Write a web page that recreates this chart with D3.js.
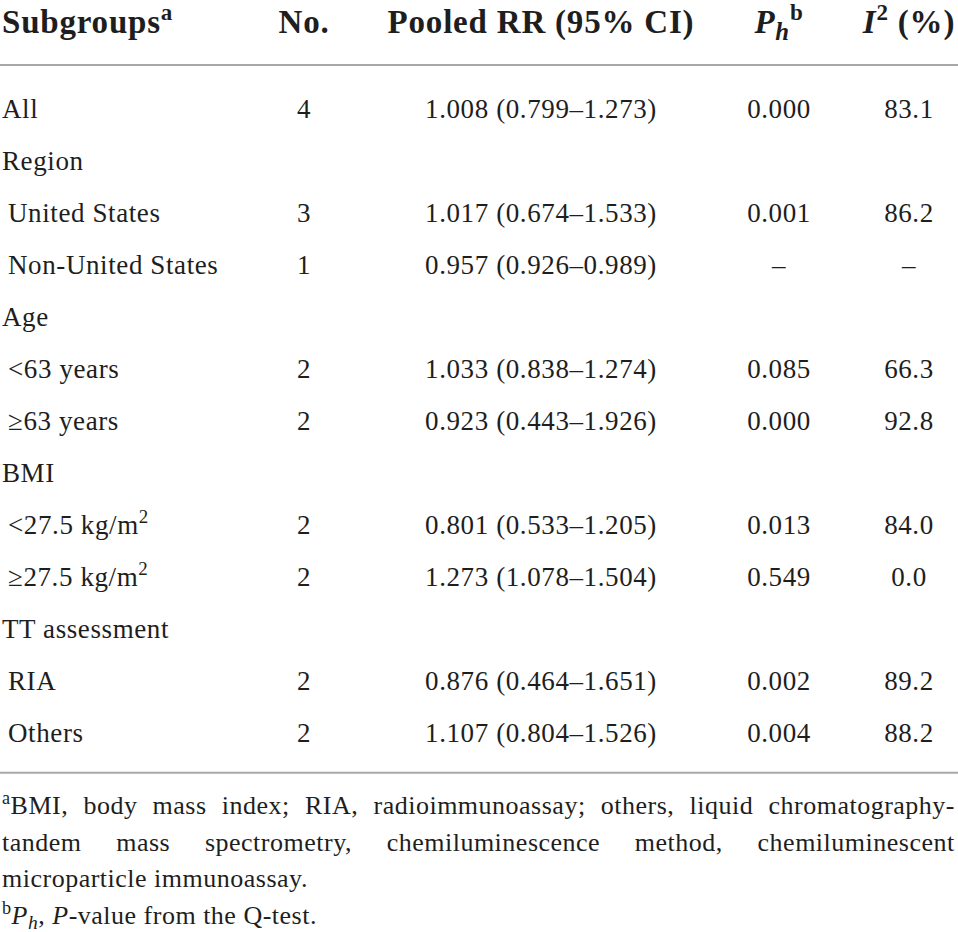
<!DOCTYPE html>
<html lang="en">
<head>
<meta charset="utf-8">
<title>Subgroup analysis table</title>
<script src="https://d3js.org/d3.v7.min.js"></script>
<style>
  html, body { margin: 0; padding: 0; background: #fff; }
  svg text { font-family: "Liberation Serif", "DejaVu Serif", serif; fill: #1e1e1e; }
  .head { font-size: 33px; font-weight: bold; letter-spacing: 0.8px; }
  .cell { font-size: 27px; letter-spacing: 0.6px; }
  .note { font-size: 26px; letter-spacing: 0.5px; }
</style>
</head>
<body>
<div id="table"></div>
<script>
// ---- data ----
// markup: ^x^ superscript, ~x~ italic subscript, *x* italic
var headers = ["Subgroups^a^", "No.", "Pooled RR (95% CI)", "*P*~h~^b^", "*I*^2^ (%)"];
var subgroups = ["All", "Region", "United States", "Non-United States", "Age", "<63 years", "\u226563 years",
                 "BMI", "<27.5 kg/m^2^", "\u226527.5 kg/m^2^", "TT assessment", "RIA", "Others"];
var indent = [0, 0, 1, 1, 0, 1, 1, 0, 1, 1, 0, 1, 1];
var counts = ["4", "", "3", "1", "", "2", "2", "", "2", "2", "", "2", "2"];
var pooledRR = ["1.008 (0.799\u20131.273)", "", "1.017 (0.674\u20131.533)", "0.957 (0.926\u20130.989)", "",
                "1.033 (0.838\u20131.274)", "0.923 (0.443\u20131.926)", "", "0.801 (0.533\u20131.205)",
                "1.273 (1.078\u20131.504)", "", "0.876 (0.464\u20131.651)", "1.107 (0.804\u20131.526)"];
var pHet = ["0.000", "", "0.001", "\u2013", "", "0.085", "0.000", "", "0.013", "0.549", "", "0.002", "0.004"];
var iSq = ["83.1", "", "86.2", "\u2013", "", "66.3", "92.8", "", "84.0", "0.0", "", "89.2", "88.2"];
var footnotes = [
  "^a^BMI, body mass index; RIA, radioimmunoassay; others, liquid chromatography-",
  "tandem mass spectrometry, chemiluminescence method, chemiluminescent",
  "microparticle immunoassay.",
  "^b^*P*~h~, *P*-value from the Q-test."
];
var justified = [true, true, false, false];

var W = 958, H = 932;
var svg = d3.select("#table").append("svg")
    .attr("width", W).attr("height", H);

var colKeys = ["group", "n", "rr", "ph", "i2"];
var colX = d3.scaleOrdinal().domain(colKeys).range([2, 304, 541, 779, 909]);
var rowY = d3.scalePoint().domain(d3.range(subgroups.length)).range([117.7, 741.7]);
var noteY = d3.scalePoint().domain(d3.range(footnotes.length)).range([814.3, 924]);

// write a marked-up string into a text element as tspans
// shifts are in em of the parent text
function fill(textSel, str) {
  var parts = str.match(/(\^[^\^]+\^|~[^~]+~|\*[^*]+\*|[^\^~*]+)/g) || [];
  var shift = 0;
  parts.forEach(function (p) {
    var kind = p[0], t = p, target = 0, size = 1, italic = false;
    if (kind === "^") { t = p.slice(1, -1); target = -0.4; size = 0.7; }
    else if (kind === "~") { t = p.slice(1, -1); target = 0.2; size = 0.75; italic = true; }
    else if (kind === "*") { t = p.slice(1, -1); italic = true; }
    var ts = textSel.append("tspan").text(t);
    if (size !== 1) ts.attr("font-size", size + "em");
    if (italic) ts.attr("font-style", "italic");
    var d = (target - shift) / size;
    if (d !== 0) ts.attr("dy", d.toFixed(3) + "em");
    shift = target;
  });
}

// header
svg.selectAll(".head").data(headers).enter().append("text")
    .attr("class", "head")
    .attr("x", function (d, i) { return colX(colKeys[i]); })
    .attr("y", 33)
    .attr("text-anchor", function (d, i) { return i === 0 ? "start" : "middle"; })
    .each(function (d) { fill(d3.select(this), d); });

// rules
svg.selectAll(".rule").data([65, 772.7]).enter().append("line")
    .attr("class", "rule")
    .attr("x1", 0).attr("x2", W)
    .attr("y1", function (d) { return d; }).attr("y2", function (d) { return d; })
    .attr("stroke", "#a8a8a8").attr("stroke-width", 2);

// body rows
var rows = svg.selectAll(".row").data(subgroups).enter().append("g")
    .attr("class", "row")
    .attr("transform", function (d, i) { return "translate(0," + rowY(i) + ")"; });

rows.each(function (d, i) {
  var g = d3.select(this);
  var vals = [d, counts[i], pooledRR[i], pHet[i], iSq[i]];
  vals.forEach(function (v, c) {
    if (!v) return;
    var t = g.append("text").attr("class", "cell")
        .attr("x", colX(colKeys[c]) + (c === 0 ? indent[i] * 6 : 0))
        .attr("y", 0)
        .attr("text-anchor", c === 0 ? "start" : "middle");
    fill(t, v);
  });
});

// footnotes, first two lines justified across the width
var left = 2, right = 955;
footnotes.forEach(function (line, i) {
  var g = svg.append("g").attr("transform", "translate(0," + noteY(i) + ")");
  if (!justified[i]) {
    fill(g.append("text").attr("class", "note").attr("x", left).attr("y", 0), line);
    return;
  }
  var words = line.split(" ");
  var nodes = words.map(function (w) {
    var t = g.append("text").attr("class", "note").attr("y", 0);
    fill(t, w);
    return t;
  });
  var widths = nodes.map(function (t) { return t.node().getBBox().width; });
  var gap = (right - left - d3.sum(widths)) / (words.length - 1);
  var x = left;
  nodes.forEach(function (t, k) {
    t.attr("x", x);
    x += widths[k] + gap;
  });
});
</script>
</body>
</html>
